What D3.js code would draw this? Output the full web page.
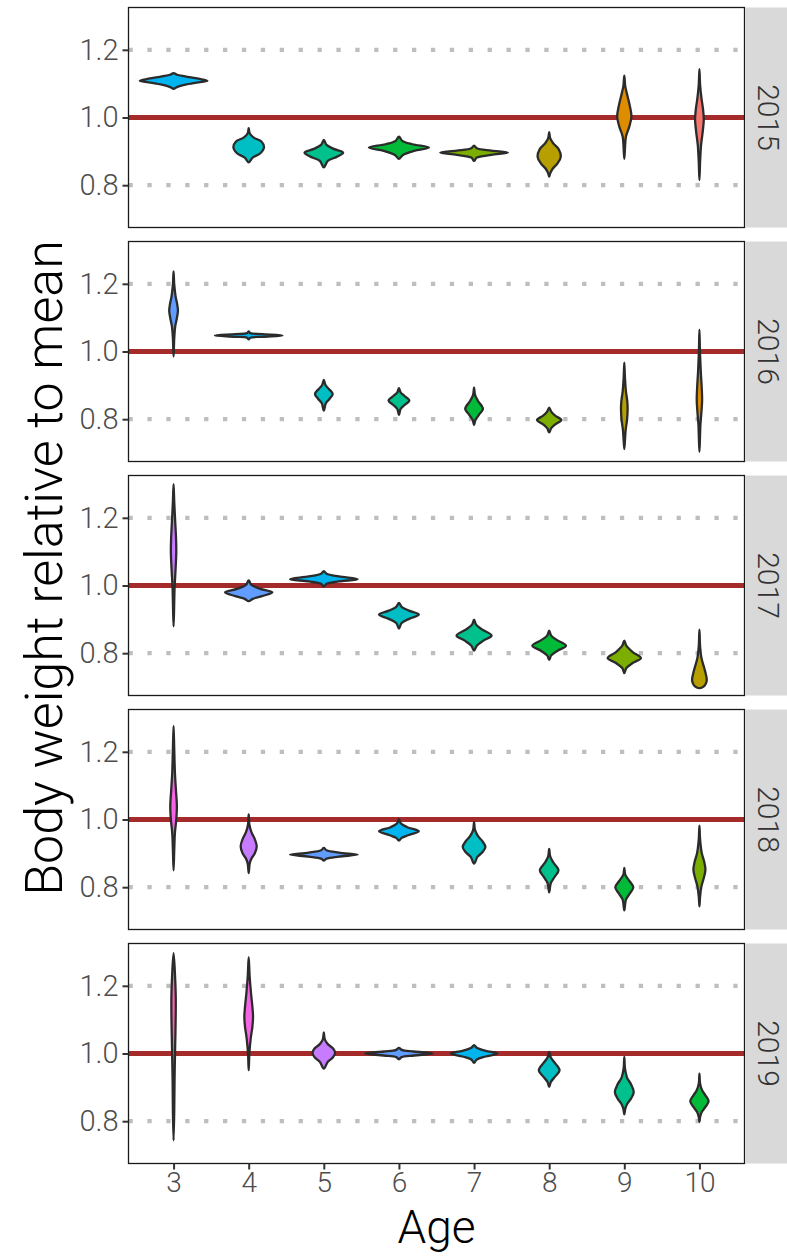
<!DOCTYPE html>
<html>
<head>
<meta charset="utf-8">
<script src="https://cdn.jsdelivr.net/npm/d3@7"></script>
<style>
  html, body { margin: 0; padding: 0; background: #fff; }
  svg { display: block; }
  text { font-family: Roboto, "Liberation Sans", sans-serif; }
</style>
</head>
<body>
<svg id="chart" width="787" height="1256"></svg>
<script>
// ---------------- data ----------------
const years = [2015, 2016, 2017, 2018, 2019];
const ages = [3, 4, 5, 6, 7, 8, 9, 10];
const yTicks = [0.8, 1.0, 1.2];
const refValue = 1.0;
const cohorts = [2005, 2006, 2007, 2008, 2009, 2010, 2011, 2012, 2013, 2014, 2015, 2016];
const cohortColors = ["#F8766D", "#DE8C00", "#B79F00", "#7CAE00", "#00BA38", "#00C08B",
                      "#00BFC4", "#00B4F0", "#619CFF", "#C77CFF", "#F564E3", "#FF64B0"];
const xTitle = "Age";
const yTitle = "Body weight relative to mean";

// Violin outlines: [age, [[value, half-width (fraction of one age step)], ... top to bottom]]
const violins2015 = [
  [3, [[1.1314,0],[1.1264,0.044],[1.1215,0.155],[1.1146,0.333],[1.1086,0.45],[1.1037,0.333],[1.0968,0.155],[1.0899,0.044],[1.0849,0]]],
  [4, [[0.9684,0],[0.9536,0.013],[0.9407,0.067],[0.9289,0.169],[0.9121,0.204],[0.8943,0.155],[0.8815,0.053],[0.8677,0]]],
  [5, [[0.9338,0],[0.9190,0.036],[0.9072,0.133],[0.8963,0.257],[0.8844,0.178],[0.8716,0.053],[0.8528,0]]],
  [6, [[0.9437,0],[0.9309,0.044],[0.9210,0.178],[0.9111,0.40],[0.9012,0.20],[0.8894,0.053],[0.8775,0]]],
  [7, [[0.9170,0],[0.9091,0.036],[0.9022,0.231],[0.8963,0.45],[0.8894,0.231],[0.8815,0.036],[0.8716,0]]],
  [8, [[0.9565,0],[0.9388,0.013],[0.9240,0.053],[0.9072,0.124],[0.8844,0.155],[0.8647,0.111],[0.8479,0.044],[0.8351,0.013],[0.8252,0]]],
  [9, [[1.1235,0],[1.0919,0.013],[1.0622,0.044],[1.0326,0.075],[1.0030,0.095],[0.9733,0.067],[0.9437,0.022],[0.9091,0.009],[0.8775,0]]],
  [10, [[1.1432,0],[1.0968,0.009],[1.0573,0.027],[1.0227,0.049],[0.9931,0.058],[0.9585,0.044],[0.9190,0.022],[0.8696,0.009],[0.8153,0]]]
];
const violins2016 = [
  [3, [[1.2370,0],[1.1975,0.009],[1.1630,0.027],[1.1383,0.049],[1.1205,0.058],[1.0988,0.044],[1.0741,0.022],[1.0395,0.009],[0.9852,0]]],
  [4, [[1.0593,0],[1.0543,0.022],[1.0514,0.178],[1.0474,0.45],[1.0435,0.178],[1.0405,0.022],[1.0356,0]]],
  [5, [[0.9160,0],[0.9012,0.022],[0.8894,0.067],[0.8746,0.118],[0.8598,0.075],[0.8469,0.027],[0.8252,0]]],
  [6, [[0.8914,0],[0.8795,0.022],[0.8686,0.075],[0.8548,0.138],[0.8420,0.075],[0.8301,0.022],[0.8123,0]]],
  [7, [[0.8933,0],[0.8716,0.013],[0.8538,0.053],[0.8301,0.118],[0.8123,0.062],[0.7975,0.018],[0.7827,0]]],
  [8, [[0.8341,0],[0.8222,0.027],[0.8104,0.080],[0.7975,0.162],[0.7847,0.080],[0.7738,0.027],[0.7610,0]]],
  [9, [[0.9674,0],[0.9210,0.009],[0.8815,0.022],[0.8519,0.040],[0.8272,0.044],[0.7975,0.036],[0.7679,0.018],[0.7383,0.009],[0.7116,0]]],
  [10, [[1.0642,0],[1.0,0.007],[0.9407,0.018],[0.8914,0.031],[0.8568,0.036],[0.8222,0.027],[0.7827,0.013],[0.7432,0.007],[0.7037,0]]]
];
const violins2017 = [
  [3, [[1.2993,0],[1.2469,0.009],[1.1877,0.022],[1.1383,0.033],[1.0988,0.036],[1.0494,0.027],[0.9901,0.013],[0.9309,0.007],[0.8795,0]]],
  [4, [[1.0148,0],[1.0020,0.036],[0.9901,0.155],[0.9802,0.315],[0.9684,0.178],[0.9605,0.053],[0.9536,0]]],
  [5, [[1.0425,0],[1.0346,0.036],[1.0267,0.200],[1.0188,0.45],[1.0119,0.200],[1.0049,0.036],[0.9970,0]]],
  [6, [[0.9486,0],[0.9368,0.036],[0.9259,0.133],[0.9141,0.266],[0.9022,0.142],[0.8894,0.036],[0.8726,0]]],
  [7, [[0.8993,0],[0.8844,0.027],[0.8696,0.111],[0.8519,0.233],[0.8370,0.124],[0.8222,0.036],[0.8074,0]]],
  [8, [[0.8667,0],[0.8519,0.027],[0.8380,0.111],[0.8222,0.224],[0.8074,0.111],[0.7936,0.027],[0.7807,0]]],
  [9, [[0.8370,0],[0.8222,0.027],[0.8035,0.111],[0.7857,0.222],[0.7709,0.111],[0.7561,0.027],[0.7412,0]]],
  [10, [[0.8696,0],[0.8202,0.009],[0.7857,0.027],[0.7610,0.058],[0.7393,0.084],[0.7195,0.098],[0.7057,0.075],[0.6988,0.036],[0.6968,0]]]
];
const violins2018 = [
  [3, [[1.2765,0],[1.2074,0.009],[1.1383,0.018],[1.0889,0.031],[1.0395,0.044],[1.0,0.036],[0.9605,0.018],[0.9111,0.009],[0.8499,0]]],
  [4, [[1.0148,0],[0.9852,0.009],[0.9625,0.036],[0.9427,0.080],[0.9210,0.107],[0.8993,0.080],[0.8844,0.036],[0.8696,0.013],[0.8420,0]]],
  [5, [[0.9160,0],[0.9091,0.036],[0.9022,0.200],[0.8963,0.45],[0.8904,0.200],[0.8844,0.036],[0.8785,0]]],
  [6, [[1.0,0],[0.9881,0.027],[0.9773,0.111],[0.9654,0.264],[0.9536,0.124],[0.9457,0.036],[0.9378,0]]],
  [7, [[0.9921,0],[0.9684,0.013],[0.9506,0.053],[0.9358,0.111],[0.9190,0.151],[0.9032,0.111],[0.8894,0.044],[0.8696,0]]],
  [8, [[0.9131,0],[0.8914,0.013],[0.8736,0.053],[0.8499,0.124],[0.8301,0.071],[0.8123,0.022],[0.7847,0]]],
  [9, [[0.8568,0],[0.8370,0.013],[0.8202,0.062],[0.7995,0.120],[0.7807,0.071],[0.7630,0.022],[0.7314,0]]],
  [10, [[0.9822,0],[0.9407,0.009],[0.9012,0.031],[0.8765,0.062],[0.8519,0.080],[0.8272,0.058],[0.8025,0.027],[0.7728,0.009],[0.7432,0]]]
];
const violins2019 = [
  [3, [[1.2963,0],[1.2370,0.018],[1.1679,0.029],[1.0889,0.027],[1.0099,0.020],[0.9210,0.013],[0.8321,0.009],[0.7432,0]]],
  [4, [[1.2844,0],[1.2272,0.013],[1.1778,0.031],[1.1383,0.049],[1.1086,0.058],[1.0790,0.049],[1.0444,0.027],[1.0,0.009],[0.9506,0]]],
  [5, [[1.0622,0],[1.0415,0.013],[1.0277,0.053],[1.0148,0.124],[1.0020,0.151],[0.9881,0.120],[0.9753,0.053],[0.9556,0]]],
  [6, [[1.0168,0],[1.0109,0.036],[1.0059,0.200],[1.0,0.45],[0.9941,0.200],[0.9891,0.036],[0.9832,0]]],
  [7, [[1.0247,0],[1.0168,0.036],[1.0079,0.155],[1.0,0.311],[0.9911,0.155],[0.9822,0.036],[0.9723,0]]],
  [8, [[1.0049,0],[0.9881,0.022],[0.9723,0.075],[0.9506,0.138],[0.9309,0.075],[0.9160,0.022],[0.9012,0]]],
  [9, [[0.9901,0],[0.9556,0.009],[0.9289,0.036],[0.9091,0.089],[0.8864,0.126],[0.8667,0.089],[0.8499,0.036],[0.8370,0.013],[0.8202,0]]],
  [10, [[0.9407,0],[0.9111,0.009],[0.8914,0.036],[0.8765,0.080],[0.8588,0.122],[0.8420,0.080],[0.8272,0.031],[0.8123,0.009],[0.7975,0]]]
];
const violinsByYear = [violins2015, violins2016, violins2017, violins2018, violins2019];

// ---------------- layout ----------------
const panelLeft = 128.5, panelRight = 744.5;
const panelTop0 = 7.5, panelH = 220, panelGap = 14;
const stripW = 44;
const yDomain = [0.675, 1.325];

const svg = d3.select("#chart");
const x = d3.scalePoint().domain(ages).range([panelLeft, panelRight]).padding(0.6);
const step = x.step();
const color = d3.scaleOrdinal().domain(cohorts).range(cohortColors);
const line = d3.line().curve(d3.curveCatmullRomClosed.alpha(0.5));

years.forEach((yr, i) => {
  const top = panelTop0 + i * (panelH + panelGap);
  const y = d3.scaleLinear().domain(yDomain).range([top + panelH, top]);
  const g = svg.append("g");

  g.append("rect").attr("x", panelLeft).attr("y", top)
    .attr("width", panelRight - panelLeft).attr("height", panelH).attr("fill", "#fff");

  const clipId = "clip" + yr;
  svg.append("clipPath").attr("id", clipId).append("rect")
    .attr("x", panelLeft).attr("y", top).attr("width", panelRight - panelLeft).attr("height", panelH);
  const inner = g.append("g").attr("clip-path", `url(#${clipId})`);

  // dotted grid at 0.8 and 1.2
  inner.selectAll("line.grid").data(yTicks.filter(t => t !== refValue)).join("line")
    .attr("x1", panelLeft).attr("x2", panelRight)
    .attr("y1", d => y(d)).attr("y2", d => y(d))
    .attr("stroke", "#BEBEBE").attr("stroke-width", 4.2)
    .attr("stroke-dasharray", "4.3 14.6");

  // reference line at 1.0
  inner.append("line")
    .attr("x1", panelLeft).attr("x2", panelRight)
    .attr("y1", y(refValue)).attr("y2", y(refValue))
    .attr("stroke", "#A52A2A").attr("stroke-width", 5);

  // violins
  inner.selectAll("path.violin").data(violinsByYear[i]).join("path")
    .attr("class", "violin")
    .attr("d", ([age, prof]) => {
      const cx = x(age);
      const right = prof.map(([v, w]) => [cx + w * step, y(v)]);
      const left = prof.slice(1, -1).reverse().map(([v, w]) => [cx - w * step, y(v)]);
      return line(right.concat(left));
    })
    .attr("fill", ([age]) => color(yr - age))
    .attr("stroke", "#2b2b2b").attr("stroke-width", 2.3)
    .attr("stroke-linejoin", "round");

  // panel border
  g.append("rect").attr("x", panelLeft).attr("y", top)
    .attr("width", panelRight - panelLeft).attr("height", panelH)
    .attr("fill", "none").attr("stroke", "#1a1a1a").attr("stroke-width", 1.3);

  // strip
  g.append("rect").attr("x", panelRight + 1.2).attr("y", top)
    .attr("width", stripW).attr("height", panelH).attr("fill", "#D9D9D9");
  g.append("text")
    .attr("transform", `translate(${panelRight + 23.5},${top + panelH / 2}) rotate(90)`)
    .attr("text-anchor", "middle").attr("dominant-baseline", "central")
    .attr("font-size", 30).attr("font-weight", 300).attr("fill", "#333")
    .text(yr);

  // y axis
  const yAxis = d3.axisLeft(y).tickValues(yTicks).tickSize(6).tickPadding(4)
    .tickFormat(d3.format(".1f"));
  const ya = g.append("g").attr("transform", `translate(${panelLeft},0)`).call(yAxis);
  ya.select(".domain").remove();
  ya.selectAll(".tick line").attr("stroke", "#333").attr("stroke-width", 2);
  ya.selectAll(".tick text").attr("font-size", 29).attr("font-weight", 300)
    .attr("fill", "#4D4D4D").attr("font-family", "Roboto, 'Liberation Sans', sans-serif");

  // x axis only on last panel
  if (i === years.length - 1) {
    const xAxis = d3.axisBottom(x).tickSize(6).tickPadding(3);
    const xa = g.append("g").attr("transform", `translate(0,${top + panelH})`).call(xAxis);
    xa.select(".domain").remove();
    xa.selectAll(".tick line").attr("stroke", "#333").attr("stroke-width", 2);
    xa.selectAll(".tick text").attr("font-size", 28).attr("font-weight", 300)
      .attr("fill", "#4D4D4D").attr("font-family", "Roboto, 'Liberation Sans', sans-serif");
  }
});

// axis titles
svg.append("text")
  .attr("transform", `translate(${(panelLeft + panelRight) / 2},1243)`)
  .attr("text-anchor", "middle").attr("font-size", 46).attr("font-weight", 300)
  .attr("fill", "#000").text(xTitle);
svg.append("text")
  .attr("transform", `translate(62,568) rotate(-90)`)
  .attr("text-anchor", "middle").attr("font-size", 52).attr("font-weight", 300)
  .attr("fill", "#000").text(yTitle);
</script>
</body>
</html>
